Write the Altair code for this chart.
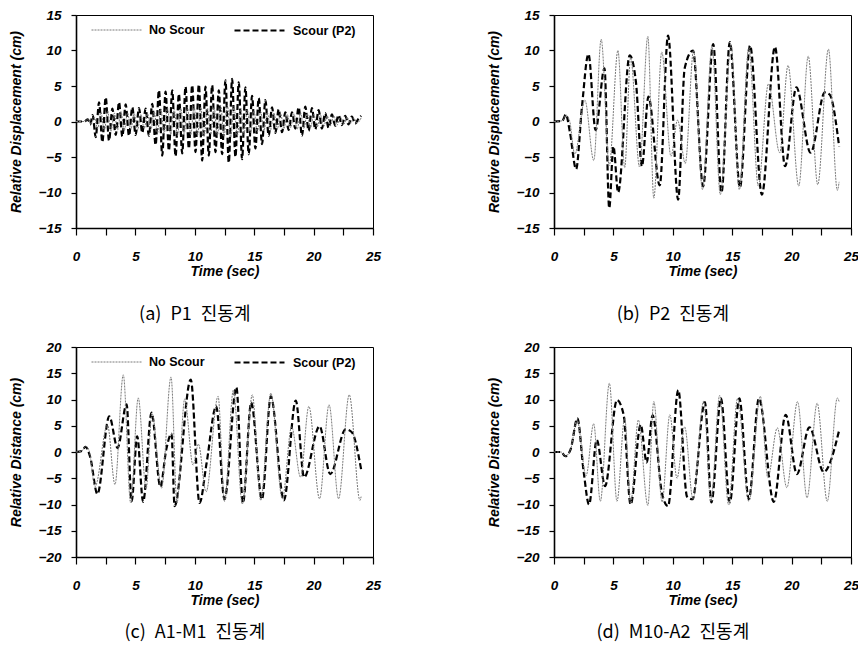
import altair as alt
import pandas as pd

SERIES = ["No Scour", "Scour (P2)"]
X_TICKS = [0, 2.5, 5, 7.5, 10, 12.5, 15, 17.5, 20, 22.5, 25]
Y_TICKS_AB = [-15, -10, -5, 0, 5, 10, 15]
Y_TICKS_CD = [-20, -15, -10, -5, 0, 5, 10, 15, 20]
CAPTIONS = ["(a)\u2002P1\u2002진동계", "(b)\u2002P2\u2002진동계",
            "(c)\u2002A1-M1\u2002진동계", "(d)\u2002M10-A2\u2002진동계"]
Y_TITLES = ["Relative Displacement (cm)", "Relative Displacement (cm)",
            "Relative Distance (cm)", "Relative Distance (cm)"]

# ---------------- panel (a) P1 ----------------
A_NS_T = [0, 0.7, 1.0, 1.25, 1.54, 1.82, 2.1, 2.38, 2.66, 2.94, 3.22, 3.5, 3.78, 4.06, 4.34, 4.62,
          4.9, 5.18, 5.46, 5.74, 6.02, 6.3, 6.58, 6.86, 7.14, 7.42, 7.7, 7.98, 8.26, 8.54, 8.82,
          9.1, 9.38, 9.66, 9.94, 10.22, 10.5, 10.78, 11.06, 11.34, 11.62, 11.9, 12.18, 12.46,
          12.74, 13.02, 13.3, 13.58, 13.86, 14.14, 14.42, 14.7, 14.98, 15.26, 15.54, 15.82,
          16.1, 16.38, 16.66, 16.94, 17.22, 17.5, 17.78, 18.06, 18.34, 18.62, 18.9, 19.18,
          19.46, 19.74, 20.02, 20.3, 20.58, 20.86, 21.14, 21.42, 21.7, 21.98, 22.26, 22.54,
          22.82, 23.1, 23.38, 23.66, 24.0]
A_NS_V = [0, 0, 0.3, -0.3, 0.6, -1.0, 1.3, -1.3, 1.5, -1.4, 1.2, -1.2, 1.4, -1.3, 1.2, -1.1,
          1.1, -1.2, 1.0, -1.0, 1.1, -1.2, 1.4, -1.6, 1.8, -1.7, 1.9, -1.8, 1.7, -2.0, 1.9,
          -1.8, 2.0, -1.9, 2.1, -2.0, 2.0, -2.1, 1.9, -1.8, 2.0, -2.0, 2.2, -2.1,
          2.3, -2.2, 2.1, -2.0, 1.9, -1.8, 1.7, -1.6, 1.5, -1.5, 1.4, -1.3,
          1.3, -1.2, 1.2, -1.1, 1.1, -1.0, 1.0, -0.9, 1.1, -1.1, 1.2, -1.0,
          1.1, -0.9, 1.0, -0.8, 0.9, -0.7, 0.8, -0.6, 0.8, -0.5, 0.7, -0.4,
          0.6, -0.3, 0.5, -0.2, 0.5]
A_S_T = [0, 0.7, 1.0, 1.2, 1.4, 1.66, 1.94, 2.22, 2.5, 2.78, 3.06, 3.34, 3.62, 3.9, 4.18, 4.46,
         4.74, 5.02, 5.3, 5.58, 5.86, 6.14, 6.42, 6.7, 6.98, 7.26, 7.54, 7.82, 8.1, 8.38, 8.66,
         8.94, 9.22, 9.5, 9.78, 10.06, 10.34, 10.62, 10.9, 11.18, 11.46, 11.74, 12.02, 12.3,
         12.58, 12.86, 13.14, 13.42, 13.7, 13.98, 14.26, 14.54, 14.82, 15.1, 15.38, 15.66,
         15.94, 16.22, 16.5, 16.78, 17.06, 17.34, 17.62, 17.9, 18.18, 18.46, 18.74, 19.02,
         19.3, 19.58, 19.86, 20.14, 20.42, 20.7, 20.98, 21.26, 21.54, 21.82, 22.1, 22.38,
         22.66, 22.94, 23.22, 23.5, 23.78, 24.0]
A_S_V = [0, 0, 0.3, -0.4, 0.9, -2.2, 2.7, -2.9, 3.4, -2.7, 1.8, -1.9, 2.7, -2.1, 2.4, -2.0,
         2.0, -1.9, 1.9, -1.6, 1.8, -2.0, 2.5, -3.3, 4.4, -4.8, 4.2, -4.1, 4.4, -4.9, 3.9,
         -4.5, 4.9, -3.8, 5.1, -4.3, 5.2, -5.5, 4.9, -4.8, 5.1, -4.3, 4.4, -4.6,
         5.8, -5.8, 6.0, -5.0, 5.5, -5.3, 4.8, -4.6, 3.6, -3.8, 3.3, -3.2,
         3.0, -2.0, 2.0, -1.6, 1.7, -1.5, 1.3, -1.2, 1.3, -1.0, 2.0, -2.0,
         2.1, -1.3, 1.9, -1.1, 1.6, -1.0, 1.2, -0.9, 1.0, -0.6, 0.9, -0.5,
         0.8, -0.4, 0.7, -0.3, 0.4, 0.8]

# ---------------- panel (b) P2 ----------------
B_NS_T = [0, 0.7, 1.0, 1.3, 1.75, 2.6, 3.35, 3.97, 4.65, 5.38, 5.95, 6.45, 7.2, 7.9, 8.4, 9.07,
          9.85, 10.4, 11.05, 11.75, 12.5, 13.3, 14.0, 14.9, 15.6, 16.4, 17.2, 18.05, 19.0,
          19.7, 20.6, 21.4, 22.2, 23.1, 23.85, 24.0]
B_NS_V = [0, 0.1, 0.9, 0.2, -4.6, 3.0, -5.5, 11.6, -6.2, 10.0, -6.5, 9.0, -6.4, 12.0, -10.8, 9.8,
          -4.9, 0.2, -5.9, 10.0, -9.6, 10.6, -10.3, 10.8, -9.6, 10.4, -9.1, 5.3, -4.4,
          7.9, -9.1, 9.2, -8.9, 10.2, -9.7, -8.5]
B_S_T = [0, 0.7, 1.0, 1.35, 1.86, 2.35, 2.9, 3.5, 4.25, 4.65, 5.0, 5.4, 6.37, 6.9, 7.4, 7.95,
         8.9, 9.6, 10.45, 11.0, 11.7, 12.55, 13.4, 14.1, 14.8, 15.65, 16.5, 17.5, 18.6, 19.45,
         20.4, 21.6, 22.8, 23.2, 24.0]
B_S_V = [0, 0.1, 1.0, -1.6, -6.7, 2.0, 9.5, -1.2, 7.5, -12.2, -3.5, -10.0, 9.3, 5.5, -6.3, 3.5,
         -9.0, 12.1, -11.0, 7.5, 10.0, -9.1, 10.9, -10.0, 11.2, -9.3, 10.7, -10.3, 10.5, -6.3,
         4.8, -4.4, 4.1, 3.8, -3.5]

# ---------------- panel (c) A1-M1 ----------------
C_NS_T = [0, 0.5, 0.8, 1.1, 1.6, 2.65, 3.28, 3.98, 4.6, 5.24, 5.9, 6.4, 7.2, 8.0, 8.5, 9.15,
          9.85, 10.3, 10.95, 11.96, 12.5, 13.25, 14.0, 14.84, 15.55, 16.4, 17.37, 18.15, 18.9,
          19.6, 20.5, 21.3, 22.1, 23.0, 23.9, 24.0]
C_NS_V = [0, 0.2, 1.1, 0.3, -6.6, 5.2, -6.2, 14.7, -9.7, 10.3, -7.0, 7.3, -6.9, 14.3, -9.7, 10.1,
          -2.5, 1.5, -7.6, 10.6, -9.4, 11.8, -9.9, 10.9, -9.2, 11.2, -8.9, 4.8, -4.8,
          8.7, -8.9, 9.0, -8.9, 10.9, -9.2, -8.5]
C_S_T = [0, 0.5, 0.8, 1.2, 1.8, 2.8, 3.5, 4.26, 4.68, 5.15, 5.65, 6.36, 7.1, 7.6, 8.04, 8.3,
         9.66, 10.4, 11.0, 11.8, 12.5, 13.5, 14.05, 14.75, 15.65, 16.4, 17.5, 18.5, 19.2, 20.5,
         21.4, 22.7, 23.2, 24.0]
C_S_V = [0, 0.2, 1.0, -1.0, -8.0, 6.8, 0.8, 9.1, -9.4, 3.0, -9.5, 7.5, -6.6, 0.5, 3.5, -10.3,
         13.8, -9.7, -2.0, 8.7, -9.0, 12.3, -9.7, 9.4, -9.0, 10.6, -9.2, 9.8, -4.8, 4.9,
         -4.2, 4.3, 3.8, -3.3]

# ---------------- panel (d) M10-A2 ----------------
D_NS_T = [0, 0.6, 0.95, 1.4, 1.94, 2.7, 3.34, 3.9, 4.66, 5.3, 5.95, 6.45, 7.1, 7.9, 8.4, 9.1,
          9.75, 10.35, 11.0, 11.7, 12.6, 13.2, 13.95, 14.7, 15.45, 16.4, 17.37, 18.0, 18.8,
          19.6, 20.5, 21.3, 22.15, 23.0, 23.85, 24.0]
D_NS_V = [0, 0, -0.8, 0.5, 6.1, -4.5, 5.4, -9.4, 13.1, -9.4, 6.5, -9.8, 6.1, -10.2, 9.6, -9.5,
          7.1, -5.0, 4.8, -9.0, 9.7, -9.4, 10.8, -10.1, 10.2, -9.4, 10.6, -4.9, 4.6,
          -6.8, 9.6, -8.7, 9.3, -9.4, 10.3, 9.6]
D_S_T = [0, 0.6, 0.95, 1.4, 1.97, 2.5, 2.95, 3.6, 4.3, 5.3, 5.86, 6.45, 7.3, 7.8, 8.3, 9.1,
         9.6, 10.46, 11.2, 11.65, 12.7, 13.25, 14.05, 14.8, 15.6, 16.4, 17.25, 18.5, 19.5,
         20.45, 21.5, 22.7, 24.0]
D_S_V = [0, 0, -0.8, 0.5, 6.4, -3.8, -10.0, 2.3, -6.5, 9.9, 7.1, -10.0, 5.2, -2.0, 7.0, -8.0,
         -10.3, 11.8, -8.5, -9.0, 9.5, -9.6, 10.2, -9.6, 10.2, -9.0, 10.2, -9.5, 7.1,
         -4.2, 4.7, -3.8, 4.1]

FONT = "Liberation Sans"


def make_df(ns_t, ns_v, s_t, s_v):
    rows = [{"t": t, "v": v, "series": SERIES[0]} for t, v in zip(ns_t, ns_v)]
    rows += [{"t": t, "v": v, "series": SERIES[1]} for t, v in zip(s_t, s_v)]
    return pd.DataFrame(rows)


def panel(df, ydom, yticks, ytitle, caption, show_legend, h, cap_off):
    if show_legend:
        leg = alt.Legend(title=None, orient="none", legendX=15, legendY=-11,
                         direction="horizontal", symbolType="stroke", symbolSize=2500,
                         labelFont=FONT, labelFontSize=12.5, labelFontWeight="bold",
                         labelColor="black", labelOffset=7, columnPadding=25,
                         padding=0)
    else:
        leg = None
    x = alt.X("t:Q", scale=alt.Scale(domain=[0, 25], nice=False),
              axis=alt.Axis(values=X_TICKS, title="Time (sec)", tickSize=7, labelPadding=14,
                            titlePadding=2, labelOverlap=False, labelFlush=False,
                            labelExpr="datum.value % 5 == 0 ? datum.label : ''"))
    y = alt.Y("v:Q", scale=alt.Scale(domain=ydom, nice=False),
              axis=alt.Axis(values=yticks, title=ytitle, tickSize=5, labelPadding=10,
                            titlePadding=15, labelOverlap=False, labelFlush=False))
    color = alt.Color("series:N", scale=alt.Scale(domain=SERIES, range=["#7a7a7a", "#000000"]),
                      legend=leg)
    dash = alt.StrokeDash("series:N", scale=alt.Scale(domain=SERIES, range=[[2, 1], [6, 3]]),
                          legend=leg)
    width = alt.StrokeWidth("series:N", scale=alt.Scale(domain=SERIES, range=[1.0, 2.2]),
                            legend=leg)
    base = alt.Chart(df)
    scour = base.transform_filter(alt.datum.series == SERIES[1]).mark_line(
        interpolate="monotone").encode(x=x, y=y, color=color, strokeDash=dash, strokeWidth=width)
    noscour = base.transform_filter(alt.datum.series == SERIES[0]).mark_line(
        interpolate="monotone").encode(x=x, y=y, color=color, strokeDash=dash, strokeWidth=width)
    return alt.layer(scour, noscour).properties(
        width=297, height=h,
        title=alt.TitleParams(caption, orient="bottom", anchor="middle", frame="bounds",
                              offset=cap_off, fontSize=18, font="Noto Sans CJK KR",
                              fontWeight="normal", color="black"))


pa = panel(make_df(A_NS_T, A_NS_V, A_S_T, A_S_V), [-15, 15], Y_TICKS_AB, Y_TITLES[0], CAPTIONS[0], True, 213, 27)
pb = panel(make_df(B_NS_T, B_NS_V, B_S_T, B_S_V), [-15, 15], Y_TICKS_AB, Y_TITLES[1], CAPTIONS[1], False, 213, 27)
pc = panel(make_df(C_NS_T, C_NS_V, C_S_T, C_S_V), [-20, 20], Y_TICKS_CD, Y_TITLES[2], CAPTIONS[2], True, 210, 16)
pd_ = panel(make_df(D_NS_T, D_NS_V, D_S_T, D_S_V), [-20, 20], Y_TICKS_CD, Y_TITLES[3], CAPTIONS[3], False, 210, 16)

chart = alt.concat(pa, pb, pc, pd_, columns=2, bounds="flush",
                   spacing=alt.RowColnumber(row=119, column=181)).resolve_scale(
    color="independent", strokeDash="independent", strokeWidth="independent"
).resolve_legend(
    color="independent", strokeDash="independent", strokeWidth="independent"
)

chart = chart.properties(padding={"left": 0, "top": -5, "right": -2, "bottom": 0}).configure_view(
    stroke="black", strokeWidth=1
).configure_axis(
    grid=False, domainColor="black", domainWidth=1.6, tickColor="black", tickWidth=1.2,
    labelFont=FONT, labelFontSize=13.5, labelFontWeight="bold", labelFontStyle="italic",
    labelColor="black", titleFont=FONT, titleFontSize=14, titleFontWeight="bold",
    titleFontStyle="italic", titleColor="black"
)

chart.save("out.html", embed_options={"renderer": "svg", "actions": False})
